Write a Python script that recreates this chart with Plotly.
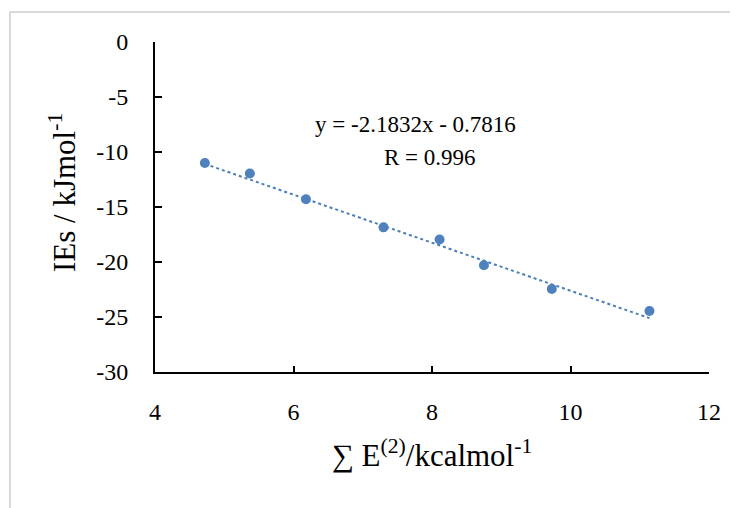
import numpy as np
import plotly.graph_objects as go

# Data
sum_e2 = [4.72, 5.37, 6.18, 7.30, 8.11, 8.75, 9.73, 11.14]
ies = [-11.0, -11.95, -14.3, -16.85, -17.95, -20.3, -22.45, -24.45]

slope = -2.1832
intercept = -0.7816
r_value = 0.996

x_ticks = [4, 6, 8, 10, 12]
y_ticks = [0, -5, -10, -15, -20, -25, -30]

blue = "#4f81bd"
font_family = "Liberation Serif"

trend_x = np.array([min(sum_e2), max(sum_e2)])
trend_y = slope * trend_x + intercept

fig = go.Figure()
fig.add_trace(go.Scatter(
    x=trend_x, y=trend_y, mode="lines",
    line=dict(color="#4a7ebb", width=2, dash="dot"),
    showlegend=False, hoverinfo="skip"))
fig.add_trace(go.Scatter(
    x=sum_e2, y=ies, mode="markers",
    marker=dict(color=blue, size=10),
    showlegend=False))

# page body has an 8px margin, so the figure is drawn 8px smaller/offset
W, H = 730, 500
L, R, T, B = 147, 29, 34, 136
pw, ph = W - L - R, H - T - B

fig.update_layout(
    width=W, height=H,
    margin=dict(l=L, r=R, t=T, b=B, autoexpand=False),
    paper_bgcolor="white", plot_bgcolor="white",
    font=dict(family=font_family, color="black", size=24),
    showlegend=False,
)
fig.update_xaxes(
    range=[4, 12], tickvals=x_ticks, ticktext=[str(v) for v in x_ticks],
    showgrid=False, zeroline=False,
    showline=True, linecolor="black", linewidth=2,
    ticks="inside", ticklen=6, tickwidth=2, tickcolor="black",
    ticklabelstandoff=17,
    tickfont=dict(size=24, family=font_family, color="black"),
    title=dict(text="\u2211 E<sup>(2)</sup>/kcalmol<sup>-1</sup>",
               font=dict(size=31, family=font_family, color="black"), standoff=21),
)
fig.update_yaxes(
    range=[-30, 0], tickvals=y_ticks, ticktext=[str(v) for v in y_ticks],
    showgrid=False, zeroline=False,
    showline=True, linecolor="black", linewidth=2,
    ticks="inside", ticklen=7, tickwidth=2, tickcolor="black",
    ticklabelstandoff=20,
    tickfont=dict(size=24, family=font_family, color="black"),
)

# y-axis title placed as in the reference (slightly above the plot centre)
fig.add_annotation(
    text="IEs / kJmol<sup>-1</sup>", xref="paper", yref="paper",
    x=(55 - L) / pw, y=1 - (185 - T) / ph, showarrow=False, textangle=-90,
    xanchor="center", yanchor="middle",
    font=dict(size=31, family=font_family, color="black"))

fig.add_annotation(
    text="y = -2.1832x - 0.7816", xref="paper", yref="paper",
    x=(407 - L) / pw, y=1 - (117 - T) / ph, showarrow=False,
    xanchor="center", yanchor="middle",
    font=dict(size=23, family=font_family, color="black"))
fig.add_annotation(
    text=f"R = {r_value}", xref="paper", yref="paper",
    x=(422 - L) / pw, y=1 - (149 - T) / ph, showarrow=False,
    xanchor="center", yanchor="middle",
    font=dict(size=23, family=font_family, color="black"))

# light grey chart-area frame
fig.add_shape(
    type="rect", xref="paper", yref="paper",
    x0=(2 - L) / pw, x1=1.2, y0=-0.6, y1=1 + (T - 4) / ph,
    line=dict(color="#d9d9d9", width=2), fillcolor="rgba(0,0,0,0)",
    layer="below")

fig.write_html("out.html")
